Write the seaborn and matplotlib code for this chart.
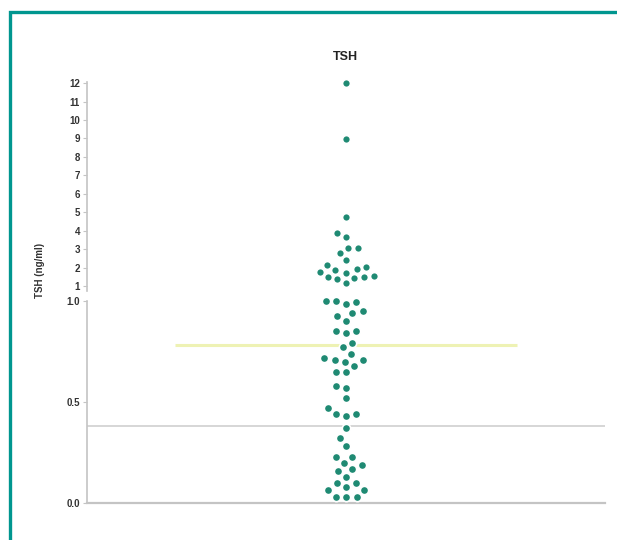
import matplotlib
matplotlib.use("Agg")
import matplotlib.pyplot as plt
import numpy as np
import pandas as pd
import seaborn as sns
from matplotlib.patches import Rectangle

# TSH values, split at the axis break (> 1 / <= 1)
tsh_high = [12.0, 8.95, 4.74, 3.87, 3.66, 3.06, 3.06, 2.79, 2.41, 2.14, 2.03,
            1.92, 1.87, 1.76, 1.70, 1.54, 1.49, 1.49, 1.43, 1.38, 1.16]
tsh_low = [1.0, 1.0, 0.995, 0.985, 0.95, 0.94, 0.925, 0.90, 0.85, 0.85, 0.84,
           0.79, 0.77, 0.74, 0.72, 0.71, 0.71, 0.70, 0.68, 0.65, 0.65, 0.58,
           0.57, 0.52, 0.47, 0.44, 0.44, 0.43, 0.37, 0.32, 0.28, 0.23, 0.23,
           0.20, 0.19, 0.17, 0.16, 0.13, 0.10, 0.10, 0.08, 0.065, 0.065,
           0.03, 0.03, 0.03]
median_line = 0.78
ref_line = 0.38
upper_ticks = list(range(1, 13))
lower_ticks = [0.0, 0.5, 1.0]
lower_labels = ["0.0", "0.5", "1.0"]

sns.set_style("white")
plt.rcParams["font.family"] = ["Liberation Sans", "DejaVu Sans"]
plt.rcParams["font.weight"] = "bold"

dot_color = "#1f8a73"
spine_color = "#c4c4c4"
text_color = "#333333"

fig = plt.figure(figsize=(6.17, 5.40), dpi=100)
ax_up = fig.add_axes([0.141, 0.4618, 0.840, 0.386])
ax_lo = fig.add_axes([0.141, 0.0685, 0.840, 0.3741])

df_hi = pd.DataFrame({"grp": ["TSH"] * len(tsh_high), "tsh": tsh_high})
df_lo = pd.DataFrame({"grp": ["TSH"] * len(tsh_low), "tsh": tsh_low})

# white edge gives the small gaps between dots seen in the original
sns.swarmplot(data=df_hi, x="grp", y="tsh", ax=ax_up, color=dot_color,
              size=5.6, linewidth=1.1, edgecolor="white")
sns.swarmplot(data=df_lo, x="grp", y="tsh", ax=ax_lo, color=dot_color,
              size=6, linewidth=1.2, edgecolor="white")

for ax in (ax_up, ax_lo):
    ax.set_xlim(-1, 1)
    ax.set_xlabel("")
    ax.set_ylabel("")
    ax.set_xticks([])
    for s in ["top", "right"]:
        ax.spines[s].set_visible(False)
    ax.spines["left"].set_color(spine_color)
    ax.spines["left"].set_linewidth(1.2)
    ax.tick_params(axis="y", length=3, width=0.8, color=spine_color,
                   labelcolor=text_color, labelsize=7, pad=2, left=True)
    for c in ax.collections:
        c.set_clip_on(False)

ax_up.spines["bottom"].set_visible(False)
ax_up.set_ylim(0.75, 12.05)
ax_up.set_yticks(upper_ticks)
ax_up.set_yticklabels([str(t) for t in upper_ticks])

ax_lo.set_ylim(0, 1.0)
ax_lo.set_yticks(lower_ticks)
ax_lo.set_yticklabels(lower_labels)
ax_lo.spines["bottom"].set_color(spine_color)
ax_lo.spines["bottom"].set_linewidth(1.6)

ax_lo.axhline(ref_line, color="#cfcfcf", lw=1.2, zorder=0)
ax_lo.hlines(median_line, -0.66, 0.66, color="#eef2b4", lw=2.2, zorder=0)

fig.text(345 / 617, 1 - 57 / 540, "TSH", ha="center", va="center",
         fontsize=9, color="#222222")
fig.text(40 / 617, 0.5, "TSH (ng/ml)", rotation=90, ha="center",
         va="center", fontsize=7, color=text_color)

fig.add_artist(Rectangle((10 / 617, -0.2), 1.2, 1.2 - 12 / 540,
                         transform=fig.transFigure, fill=False,
                         edgecolor="#00968f", lw=2.4))

fig.savefig("out.png", dpi=100)
